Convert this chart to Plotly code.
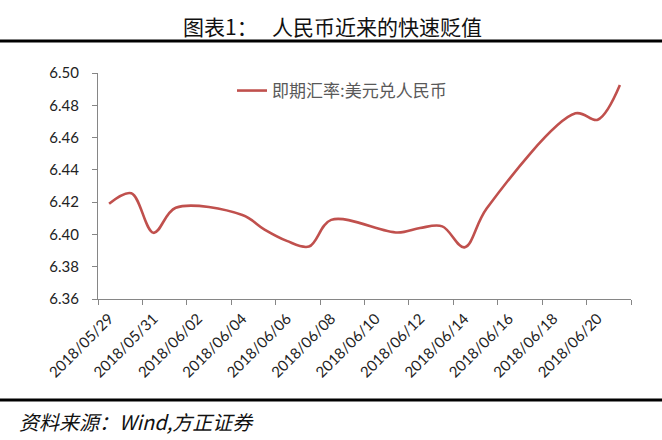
import plotly.graph_objects as go
from datetime import datetime, timedelta

# ---- data ----
dates = ["2018-05-29", "2018-05-30", "2018-05-31", "2018-06-01", "2018-06-04",
         "2018-06-05", "2018-06-06", "2018-06-07", "2018-06-08", "2018-06-11",
         "2018-06-12", "2018-06-13", "2018-06-14", "2018-06-15", "2018-06-19",
         "2018-06-20", "2018-06-21"]
values = [6.419, 6.4255, 6.401, 6.4165, 6.412,
          6.403, 6.396, 6.3925, 6.409, 6.4012,
          6.404, 6.405, 6.392, 6.416, 6.475,
          6.471, 6.4925]
series_name = "即期汇率:美元兑人民币"
tick_dates = ["2018-05-29", "2018-05-31", "2018-06-02", "2018-06-04", "2018-06-06",
              "2018-06-08", "2018-06-10", "2018-06-12", "2018-06-14", "2018-06-16",
              "2018-06-18", "2018-06-20"]
tick_labels = [d.replace("-", "/") for d in tick_dates]
title_text = "图表1：   人民币近来的快速贬值"
source_text = "资料来源：Wind,方正证券"

start = datetime(2018, 5, 28, 12)
end = datetime(2018, 6, 21, 12)
boundaries = [(start + timedelta(days=2 * k)).strftime("%Y-%m-%d %H:%M") for k in range(13)]

W, H = 662, 440
L, R, T, B = 98, 31, 73, 141
pw, ph = W - L - R, H - T - B

def px_x(x):
    return (x - L) / pw

def px_y(y):
    return (H - B - y) / ph

fig = go.Figure()
fig.add_trace(go.Scatter(
    x=dates, y=values, mode="lines", name=series_name,
    line=dict(color="#C0504D", width=2.6, shape="spline", smoothing=1.0),
))

axis_font = dict(family="Lato, sans-serif", size=15, color="#222222")
fig.update_layout(
    width=W, height=H,
    margin=dict(l=L, r=R, t=T, b=B),
    paper_bgcolor="white", plot_bgcolor="white",
    showlegend=True,
    legend=dict(x=px_x(232), y=1.0, xanchor="left", yanchor="top",
                bgcolor="rgba(0,0,0,0)",
                font=dict(family="Noto Sans CJK SC", size=17, color="#595959")),
    title=dict(text=title_text, xref="container", yref="container",
               x=332.5 / W, y=1 - 28 / H, xanchor="center", yanchor="middle",
               font=dict(family="Noto Sans CJK SC", size=21, color="#111111")),
    xaxis=dict(
        type="date", range=[start.strftime("%Y-%m-%d %H:%M"), end.strftime("%Y-%m-%d %H:%M")],
        tickmode="array", tickvals=tick_dates, ticktext=tick_labels,
        tickangle=-45, ticks="", showgrid=False, zeroline=False,
        showline=True, linecolor="#868686", linewidth=1,
        tickfont=axis_font, ticklabelstandoff=4,
        minor=dict(tickmode="array", tickvals=boundaries, ticks="outside",
                   ticklen=5, tickcolor="#868686", tickwidth=1, showgrid=False),
    ),
    yaxis=dict(
        range=[6.36, 6.50], tickmode="linear", tick0=6.36, dtick=0.02,
        tickformat=".2f", ticks="outside", ticklen=5, tickcolor="#868686",
        showgrid=False, zeroline=False, showline=True, linecolor="#868686",
        linewidth=1, tickfont=axis_font, ticklabelstandoff=10,
    ),
)

# horizontal rules
fig.add_shape(type="line", xref="paper", yref="paper",
              x0=px_x(0), x1=px_x(662), y0=px_y(41), y1=px_y(41),
              line=dict(color="#000000", width=3))
fig.add_shape(type="line", xref="paper", yref="paper",
              x0=px_x(0), x1=px_x(662), y0=px_y(400), y1=px_y(400),
              line=dict(color="#000000", width=3))

fig.add_annotation(text="<i>" + source_text + "</i>", xref="paper", yref="paper",
                   x=px_x(17), y=px_y(422), xanchor="left", yanchor="middle",
                   showarrow=False,
                   font=dict(family="Noto Sans CJK SC", size=20, color="#111111"))

fig.write_html("out.html")
